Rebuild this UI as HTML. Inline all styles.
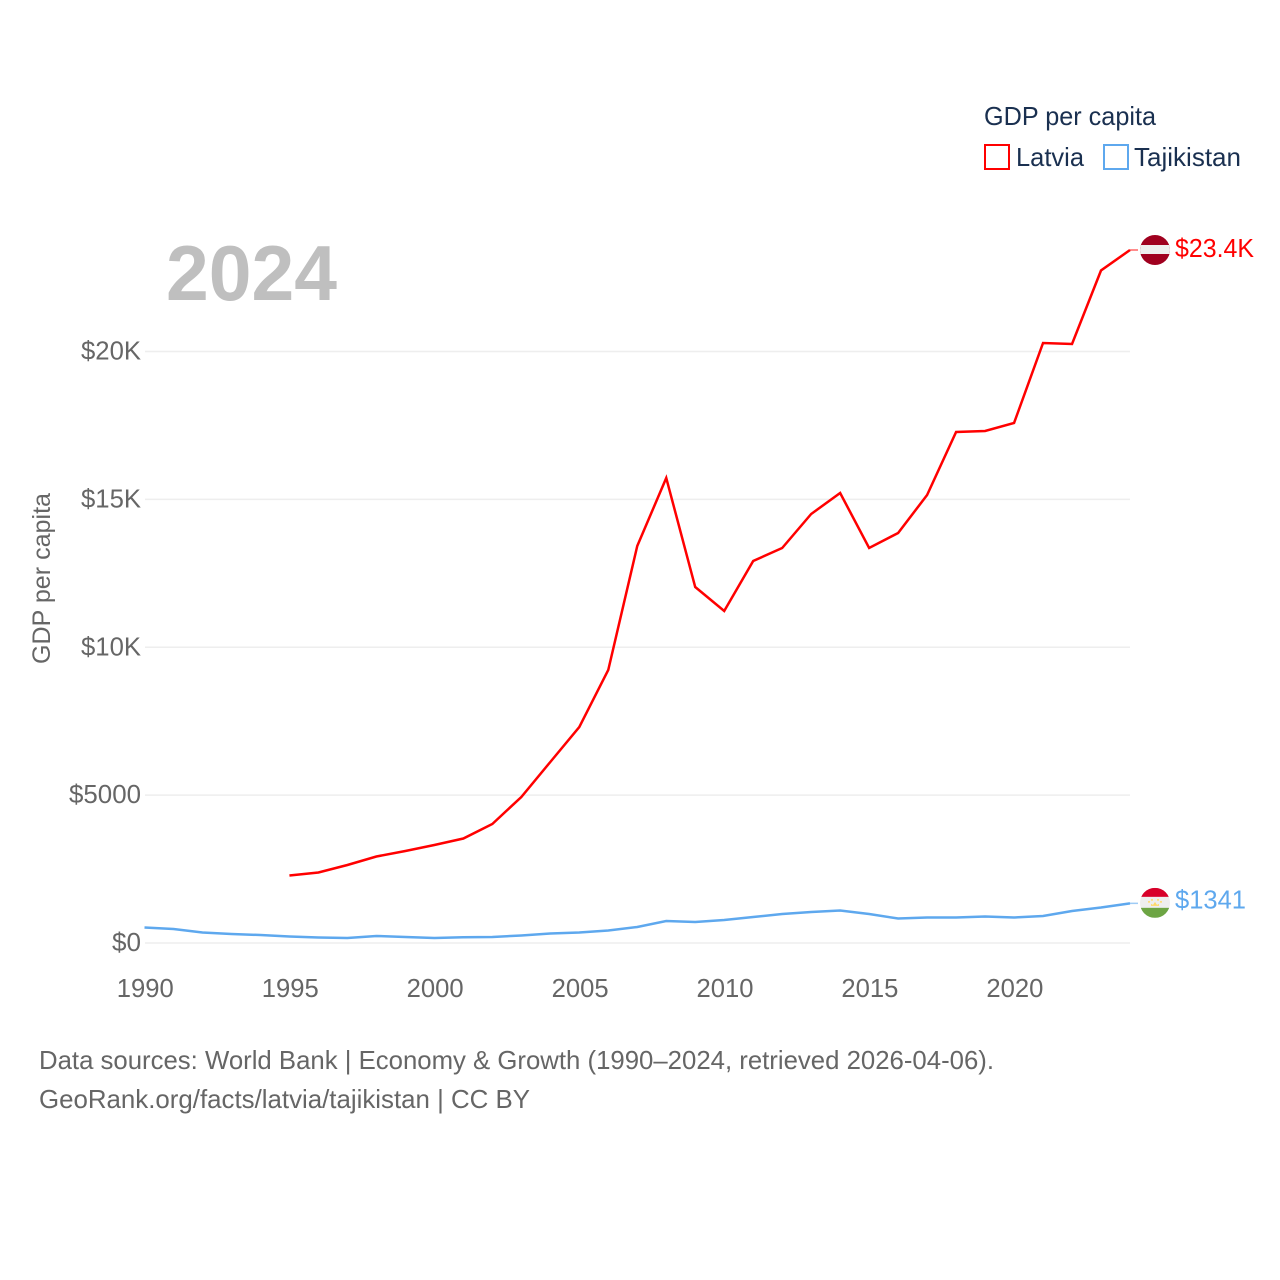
<!DOCTYPE html>
<html lang="en">
<head>
<meta charset="utf-8">
<title>GDP per capita: Latvia and Tajikistan</title>
<style>
html,body{margin:0;padding:0;background:#fff;width:1280px;height:1280px;overflow:hidden}
svg{display:block}
text{font-family:"Liberation Sans",sans-serif}
</style>
</head>
<body>
<svg id="chart" xmlns="http://www.w3.org/2000/svg" width="1280" height="1280" viewBox="0 0 1280 1280">
  <defs>
    <clipPath id="flag-clip-a"><circle cx="0" cy="0" r="15"/></clipPath>
    <clipPath id="flag-clip-b"><circle cx="0" cy="0" r="15"/></clipPath>
  </defs>
  <rect x="0" y="0" width="1280" height="1280" fill="#fff"/>
  <g id="grid"></g>
  <g id="yticks"></g>
  <g id="xticks"></g>
  <text transform="translate(50,578.5) rotate(-90)" text-anchor="middle" font-size="25" fill="#666" textLength="171" lengthAdjust="spacingAndGlyphs">GDP per capita</text>
  <text x="166" y="300" font-size="78" font-weight="700" fill="#bfbfbf" textLength="171" lengthAdjust="spacingAndGlyphs">2024</text>
  <g id="series"></g>
  <g>
    <text x="984" y="125" font-size="26" fill="#1a3050" textLength="172" lengthAdjust="spacingAndGlyphs">GDP per capita</text>
    <g>
      <rect x="985" y="145" width="24" height="24" fill="none" stroke="#ff0000" stroke-width="2"/>
      <text x="1016" y="166" font-size="26" fill="#1a3050" textLength="68" lengthAdjust="spacingAndGlyphs">Latvia</text>
    </g>
    <g>
      <rect x="1104" y="145" width="24" height="24" fill="none" stroke="#5ea8ee" stroke-width="2"/>
      <text x="1134" y="166" font-size="26" fill="#1a3050" textLength="107" lengthAdjust="spacingAndGlyphs">Tajikistan</text>
    </g>
  </g>
  <g id="end-a">
    <g clip-path="url(#flag-clip-a)">
      <rect x="-15" y="-15" width="30" height="30" fill="#a0001f"/>
      <rect x="-15" y="-5" width="30" height="9" fill="#eeeeee"/>
    </g>
  </g>
  <g id="end-b">
    <g clip-path="url(#flag-clip-b)">
      <rect x="-15" y="-15" width="30" height="30" fill="#eeeeee"/>
      <rect x="-15" y="-15" width="30" height="9" fill="#d8002a"/>
      <rect x="-15" y="5" width="30" height="10" fill="#6da544"/>
      <path d="M-4 3h8v-2l-2 1-2-3-2 3-2-1z" fill="#ffda6a"/>
      <circle cx="-6" cy="-1" r="1" fill="#ffda6a"/>
      <circle cx="6" cy="-1" r="1" fill="#ffda6a"/>
      <circle cx="-3" cy="-3" r="1" fill="#ffda6a"/>
      <circle cx="3" cy="-3" r="1" fill="#ffda6a"/>
    </g>
  </g>
  <text x="39" y="1069" font-size="26" fill="#666" textLength="955" lengthAdjust="spacingAndGlyphs">Data sources: World Bank | Economy &amp; Growth (1990–2024, retrieved 2026-04-06).</text>
  <text x="39" y="1108" font-size="26" fill="#666" textLength="491" lengthAdjust="spacingAndGlyphs">GeoRank.org/facts/latvia/tajikistan | CC BY</text>
</svg>
<script>
const years = [1990,1991,1992,1993,1994,1995,1996,1997,1998,1999,2000,2001,2002,2003,2004,2005,2006,2007,2008,2009,2010,2011,2012,2013,2014,2015,2016,2017,2018,2019,2020,2021,2022,2023,2024];
const latviaValues = [null,null,null,null,null,2282,2384,2637,2925,3110,3314,3533,4024,4937,6120,7303,9231,13423,15723,12037,11226,12916,13356,14506,15216,13356,13863,15148,17278,17312,17583,20287,20254,22739,23432];
const tajikistanValues = [524,473,355,304,270,220,186,169,237,203,169,193,203,254,321,355,423,541,744,710,778,879,980,1048,1099,980,828,862,862,896,862,913,1082,1200,1341];
const yTickValues = [0,5000,10000,15000,20000];
const yTickLabels = ["$0","$5000","$10K","$15K","$20K"];
const yTickWidths = [29,72,60,60,60];
const xTickValues = [1990,1995,2000,2005,2010,2015,2020];
const latviaEndLabel = "$23.4K";
const tajikistanEndLabel = "$1341";

const NS = "http://www.w3.org/2000/svg";
const xScale = function (year) { return 144.5 + (year - 1990) * (1130 - 144.5) / 34; };
const yScale = function (value) { return 943 - value * (943 - 351.5) / 20000; };
const make = function (tag, parent) {
  const el = document.createElementNS(NS, tag);
  document.getElementById(parent).appendChild(el);
  return el;
};

yTickValues.forEach(function (v, i) {
  const line = make("line", "grid");
  
  
  line.setAttribute("x1", 145);
  line.setAttribute("x2", 1130);
  line.setAttribute("y1", yScale(v));
  line.setAttribute("y2", yScale(v));
  line.setAttribute("stroke", "#eeeeee");
  line.setAttribute("stroke-width", 1.5);
  const t = make("text", "yticks");
  
  
  t.setAttribute("x", 141);
  t.setAttribute("y", yScale(v) + 8);
  t.setAttribute("text-anchor", "end");
  t.setAttribute("font-size", 26);
  t.setAttribute("fill", "#666");
  t.setAttribute("textLength", yTickWidths[i]);
  t.setAttribute("lengthAdjust", "spacingAndGlyphs");
  t.textContent = yTickLabels[i];
});

xTickValues.forEach(function (v) {
  const t = make("text", "xticks");
  
  
  t.setAttribute("x", xScale(v) + 0.8);
  t.setAttribute("y", 997);
  t.setAttribute("text-anchor", "middle");
  t.setAttribute("font-size", 26);
  t.setAttribute("fill", "#666");
  t.setAttribute("textLength", 57);
  t.setAttribute("lengthAdjust", "spacingAndGlyphs");
  t.textContent = String(v);
});

const pathFor = function (vals) {
  let d = "";
  vals.forEach(function (v, i) {
    if (v === null) return;
    d += (d ? "L" : "M") + xScale(years[i]).toFixed(2) + " " + yScale(v).toFixed(2);
  });
  return d;
};
const lastOf = function (vals) { return vals[vals.length - 1]; };

const latviaLine = make("path", "series");


latviaLine.setAttribute("d", pathFor(latviaValues));
latviaLine.setAttribute("fill", "none");
latviaLine.setAttribute("stroke", "#ff0000");
latviaLine.setAttribute("stroke-width", 2.5);

const tajikistanLine = make("path", "series");


tajikistanLine.setAttribute("d", pathFor(tajikistanValues));
tajikistanLine.setAttribute("fill", "none");
tajikistanLine.setAttribute("stroke", "#5ea8ee");
tajikistanLine.setAttribute("stroke-width", 2.5);

const latviaY = yScale(lastOf(latviaValues));
const tajikistanY = yScale(lastOf(tajikistanValues));

const latviaConnector = make("line", "series");


latviaConnector.setAttribute("x1", 1130);
latviaConnector.setAttribute("x2", 1138);
latviaConnector.setAttribute("y1", latviaY);
latviaConnector.setAttribute("y2", latviaY);
latviaConnector.setAttribute("stroke", "#ff0000");
latviaConnector.setAttribute("stroke-opacity", 0.6);
latviaConnector.setAttribute("stroke-width", 1.5);

const tajikistanConnector = make("line", "series");


tajikistanConnector.setAttribute("x1", 1130);
tajikistanConnector.setAttribute("x2", 1138);
tajikistanConnector.setAttribute("y1", tajikistanY);
tajikistanConnector.setAttribute("y2", tajikistanY);
tajikistanConnector.setAttribute("stroke", "#5ea8ee");
tajikistanConnector.setAttribute("stroke-opacity", 0.6);
tajikistanConnector.setAttribute("stroke-width", 1.5);

document.getElementById("end-a").setAttribute("transform", "translate(1155," + latviaY + ")");
document.getElementById("end-b").setAttribute("transform", "translate(1155," + (tajikistanY - 0.5) + ")");

const latviaLabel = make("text", "series");


latviaLabel.setAttribute("x", 1175);
latviaLabel.setAttribute("y", latviaY + 7);
latviaLabel.setAttribute("font-size", 26);
latviaLabel.setAttribute("fill", "#ff0000");
latviaLabel.setAttribute("textLength", 79);
latviaLabel.setAttribute("lengthAdjust", "spacingAndGlyphs");
latviaLabel.textContent = latviaEndLabel;

const tajikistanLabel = make("text", "series");


tajikistanLabel.setAttribute("x", 1175);
tajikistanLabel.setAttribute("y", tajikistanY + 5);
tajikistanLabel.setAttribute("font-size", 26);
tajikistanLabel.setAttribute("fill", "#5ea8ee");
tajikistanLabel.setAttribute("textLength", 71);
tajikistanLabel.setAttribute("lengthAdjust", "spacingAndGlyphs");
tajikistanLabel.textContent = tajikistanEndLabel;
</script>
</body>
</html>
